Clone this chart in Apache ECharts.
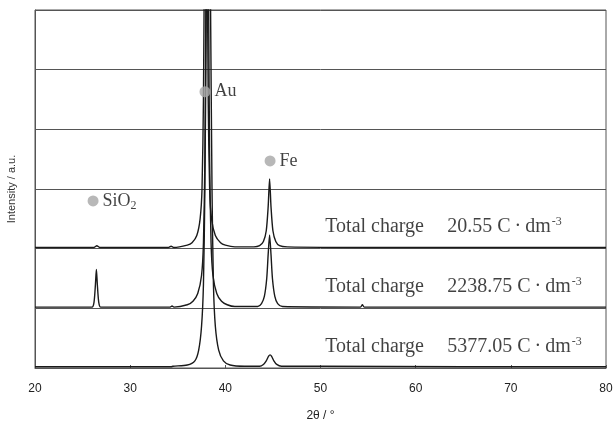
<!DOCTYPE html>
<html>
<head>
<meta charset="utf-8">
<script src="https://cdn.jsdelivr.net/npm/echarts@6/dist/echarts.min.js"></script>
<style>html,body{margin:0;padding:0;background:#fff;}#c{width:616px;height:423px;}</style>
</head>
<body>
<div id="c"></div>
<script>
// X ticks (2θ / °)
const xTicks = [20, 30, 40, 50, 60, 70, 80];
// Vertical offsets of each pattern (in band units)
const offsets = [2, 1, 0];
// Sample names (total charge, C·dm-3)
const chargeValues = ['20.55', '2238.75', '5377.05'];
// Pattern for 20.55 C·dm-3 : [2θ, intensity]
const pattern1 = [
  [20,0.02],[24,0.02],[26.2,0.02],[26.5,0.05],[26.8,0.02],[30,0.02],[34.0,0.02],[34.3,0.04],[34.6,0.02],
  [36.0,0.06],[36.5,0.1],[37.0,0.22],[37.35,0.5],[37.55,1.0],[37.7,2.5],[37.8,5],[37.9,8],[38.0,8],[38.1,5],
  [38.2,2.5],[38.35,1.0],[38.55,0.5],[38.95,0.22],[39.5,0.1],[40.0,0.06],[41,0.03],[43.0,0.03],[43.6,0.05],
  [44.0,0.12],[44.3,0.3],[44.5,0.7],[44.65,1.17],[44.8,0.7],[45.0,0.3],[45.3,0.12],[45.7,0.05],[46.5,0.03],
  [55,0.02],[65,0.02],[80,0.02]
];
// Pattern for 2238.75 C·dm-3
const pattern2 = [
  [20,0.02],[26.0,0.02],[26.2,0.1],[26.35,0.4],[26.45,0.65],[26.55,0.4],[26.7,0.1],[26.9,0.02],[30,0.02],
  [34.2,0.02],[34.4,0.04],[34.6,0.02],[36.0,0.06],[36.6,0.12],[37.1,0.25],[37.5,0.55],[37.7,1.1],[37.85,2.5],
  [37.95,5],[38.05,9],[38.15,9],[38.25,5],[38.35,2.5],[38.5,1.1],[38.7,0.55],[39.1,0.25],[39.6,0.12],[40.2,0.06],
  [41,0.03],[43.4,0.03],[43.8,0.08],[44.1,0.2],[44.35,0.5],[44.5,0.9],[44.65,1.23],[44.8,0.9],[44.95,0.5],
  [45.2,0.2],[45.5,0.08],[46,0.03],[54.2,0.02],[54.4,0.06],[54.6,0.02],[65,0.02],[80,0.02]
];
// Pattern for 5377.05 C·dm-3
const pattern3 = [
  [20,0.02],[30,0.02],[34.3,0.02],[34.5,0.03],[36.0,0.05],[36.8,0.12],[37.2,0.3],[37.5,0.7],[37.7,1.4],
  [37.85,3],[38.0,6],[38.15,9],[38.3,9],[38.45,6],[38.6,3],[38.75,1.4],[38.95,0.7],[39.3,0.3],[39.8,0.12],
  [40.5,0.05],[42,0.03],[43.6,0.03],[44.0,0.06],[44.3,0.12],[44.55,0.2],[44.7,0.22],[44.85,0.2],[45.1,0.12],
  [45.4,0.06],[45.9,0.03],[50,0.03],[65,0.02],[80,0.02]
];
const patterns = [pattern1, pattern2, pattern3];
// Phase markers
const phaseNames = ['Au', 'Fe', 'SiO2'];
const phaseAnchor = [[37.86, 4.63], [44.7, 3.47], [26.1, 2.8]];
// Charge label anchors
const chargeAnchor = [[50.5, 2.36], [50.5, 1.36], [50.5, 0.35]];

const chart = echarts.init(document.getElementById('c'), null, {renderer: 'canvas'});

const lineSeries = patterns.map((p, i) => ({
  type: 'line',
  data: p.map(d => [d[0], d[1] + offsets[i]]),
  showSymbol: false,
  smooth: 0.25,
  clip: true,
  lineStyle: {color: '#1a1a1a', width: 1.4},
  z: 3
}));

const serif = 'Liberation Serif';
const phaseSeries = {
  type: 'scatter',
  symbol: 'circle',
  symbolSize: 11,
  itemStyle: {color: '#a6a6a6'},
  z: 5,
  data: phaseNames.map((n, i) => ({
    value: phaseAnchor[i],
    label: {
      show: true,
      position: 'right',
      distance: 4,
      formatter: n === 'SiO2' ? '{a|SiO}{s|2}' : '{a|' + n + '}',
      rich: {
        a: {fontFamily: serif, fontSize: 18, color: '#111'},
        s: {fontFamily: serif, fontSize: 12, color: '#111', padding: [10, 0, 0, 0]}
      }
    }
  }))
};

const chargeSeries = {
  type: 'scatter',
  symbolSize: 0,
  z: 5,
  data: chargeValues.map((v, i) => ({
    value: chargeAnchor[i],
    label: {
      show: true,
      position: 'right',
      distance: 0,
      formatter: '{t|Total charge}{v|' + v + ' C\u2009\u00b7\u2009dm}{s|-3}',
      rich: {
        t: {fontFamily: serif, fontSize: 20, color: '#111', width: 122},
        v: {fontFamily: serif, fontSize: 20, color: '#111'},
        s: {fontFamily: serif, fontSize: 12, color: '#111', padding: [0, 0, 10, 1]}
      }
    }
  }))
};

chart.setOption({
  animation: false,
  backgroundColor: '#ffffff',
  grid: {left: 35, right: 10, top: 10, bottom: 55, show: true, borderColor: '#555', borderWidth: 1,
         containLabel: false, outerBoundsMode: 'none'},
  xAxis: {
    type: 'value',
    min: xTicks[0],
    max: xTicks[xTicks.length - 1],
    interval: 10,
    name: '2\u03b8 / \u00b0',
    nameLocation: 'middle',
    nameGap: 42,
    nameTextStyle: {fontFamily: 'Liberation Sans', fontSize: 12, color: '#222'},
    axisLine: {show: true, lineStyle: {color: '#555'}},
    axisTick: {show: true, inside: true, length: 3, lineStyle: {color: '#555'}},
    axisLabel: {fontFamily: 'Liberation Sans', fontSize: 12, color: '#222', margin: 15},
    splitLine: {show: false}
  },
  yAxis: {
    type: 'value',
    min: 0,
    max: 6,
    interval: 1,
    name: 'Intensity / a.u.',
    nameLocation: 'middle',
    nameGap: 18,
    nameTextStyle: {fontFamily: 'Liberation Sans', fontSize: 11, color: '#333'},
    axisLine: {show: true, lineStyle: {color: '#555'}},
    axisTick: {show: true, inside: true, length: 3, lineStyle: {color: '#555'}},
    axisLabel: {show: false},
    splitLine: {show: true, lineStyle: {color: '#555', width: 1}}
  },
  series: [...lineSeries, phaseSeries, chargeSeries]
});
</script>
</body>
</html>
